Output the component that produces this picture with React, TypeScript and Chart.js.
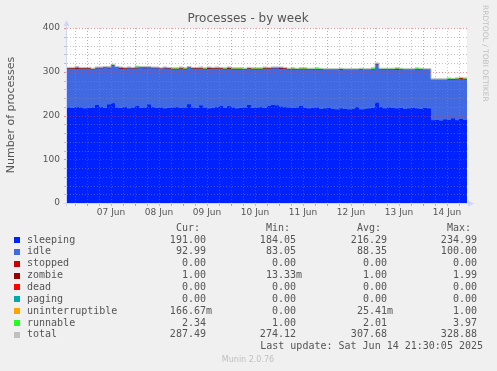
import React, { useEffect, useRef } from "react";
import { Chart, registerables } from "chart.js";

Chart.register(...registerables);

// time axis: hours counted from 06 Jun 00:00
const START_HOUR = 14;
const STEP_HOURS = 2;
const END_HOUR = 214;

const sleeping = [
  218, 217, 219, 218, 216, 217, 218, 224, 219, 217,
  225, 228, 218, 217, 219, 216, 218, 222, 217, 218,
  225, 219, 217, 218, 216, 217, 218, 219, 217, 218,
  226, 218, 217, 223, 218, 216, 217, 219, 222, 217,
  221, 218, 216, 217, 218, 224, 217, 218, 219, 217,
  222, 224, 223, 220, 219, 218, 217, 218, 222, 217,
  216, 217, 218, 215, 216, 217, 215, 214, 216, 215,
  214, 215, 219, 214, 215, 216, 217, 229, 219, 216,
  218, 217, 216, 217, 215, 216, 217, 216, 215, 217,
  216, 189, 190, 188, 191, 190, 193, 189, 192, 190,
  191,
];
const idle = [
  89, 90, 88, 89, 91, 90, 88, 84, 89, 92,
  83, 86, 91, 90, 88, 92, 89, 86, 92, 90,
  84, 89, 91, 89, 92, 90, 88, 87, 90, 88,
  83, 89, 90, 84, 88, 91, 90, 88, 85, 89,
  86, 88, 90, 89, 87, 83, 89, 88, 87, 90,
  85, 84, 85, 87, 88, 88, 89, 87, 84, 89,
  89, 88, 87, 90, 88, 87, 89, 90, 88, 89,
  90, 89, 85, 91, 89, 88, 88, 88, 86, 89,
  87, 88, 89, 88, 89, 88, 87, 89, 90, 87,
  88, 92, 91, 93, 90, 92, 89, 94, 91, 93,
  93,
];
const zombie = [
  1, 1, 2, 1, 1, 1, 1, 1, 1, 1,
  1, 1, 1, 2, 1, 1, 1, 1, 1, 2,
  1, 1, 1, 1, 1, 1, 1, 1, 1, 1,
  1, 1, 1, 1, 1, 2, 1, 1, 1, 1,
  2, 1, 1, 1, 1, 1, 1, 1, 1, 1,
  1, 1, 1, 2, 1, 1, 1, 1, 1, 1,
  1, 1, 1, 1, 1, 1, 1, 1, 2, 1,
  1, 1, 1, 1, 1, 1, 1, 1, 1, 1,
  1, 1, 2, 1, 1, 1, 1, 1, 1, 1,
  1, 1, 1, 1, 1, 1, 1, 1, 2, 1,
  1,
];
const uninterruptible = [
  0, 0, 0, 0, 0, 0, 0, 0, 0, 0,
  0, 0, 0, 0, 0, 0, 0, 0, 0, 0,
  0, 0, 0, 0, 0, 0, 0, 0, 0, 0,
  0, 0, 0, 1, 0, 0, 0, 0, 0, 0,
  0, 0, 0, 0, 0, 0, 0, 0, 0, 0,
  0, 0, 0, 0, 0, 0, 0, 0, 0, 0,
  0, 0, 0, 0, 0, 0, 0, 0, 0, 0,
  0, 0, 0, 0, 0, 0, 0, 0, 0, 0,
  0, 0, 0, 0, 0, 0, 0, 0, 0, 0,
  0, 0, 0, 0, 0, 0, 0, 0, 0, 0,
  0.17,
];
const runnable = [
  2, 2, 3, 2, 2, 2, 1, 2, 2, 2,
  3, 2, 2, 2, 2, 2, 2, 4, 2, 2,
  2, 2, 2, 1, 2, 2, 2, 2, 3, 2,
  2, 2, 2, 2, 2, 2, 2, 3, 2, 2,
  2, 2, 2, 2, 2, 2, 2, 2, 2, 3,
  2, 2, 2, 2, 2, 1, 2, 2, 2, 2,
  2, 2, 3, 2, 2, 2, 2, 2, 2, 2,
  2, 2, 2, 2, 2, 2, 3, 2, 2, 2,
  2, 2, 2, 2, 2, 2, 2, 3, 2, 2,
  2, 2, 2, 2, 2, 3, 2, 2, 2, 2,
  2.34,
];

const dayLabels = ["07 Jun", "08 Jun", "09 Jun", "10 Jun", "11 Jun", "12 Jun", "13 Jun", "14 Jun"];
const dayNoonHours = [36, 60, 84, 108, 132, 156, 180, 204];
const yTickLabels = [0, 100, 200, 300, 400];

const legendNames = ["sleeping", "idle", "stopped", "zombie", "dead", "paging", "uninterruptible", "runnable", "total"];
const legendColors = ["#0022ff", "#4169e1", "#cc0000", "#990000", "#ff0000", "#00aaaa", "#ffa500", "#22ff22", "#c0c0c0"];
const curValues = ["191.00", "92.99", "0.00", "1.00", "0.00", "0.00", "166.67m", "2.34", "287.49"];
const minValues = ["184.05", "83.05", "0.00", "13.33m", "0.00", "0.00", "0.00", "1.00", "274.12"];
const avgValues = ["216.29", "88.35", "0.00", "1.00", "0.00", "0.00", "25.41m", "2.01", "307.68"];
const maxValues = ["234.99", "100.00", "0.00", "1.99", "0.00", "0.00", "1.00", "3.97", "328.88"];

const W = 497;
const H = 371;
const SANS = "'DejaVu Sans', sans-serif";
const MONO = "'DejaVu Sans Mono', monospace";

export default function App() {
  const ref = useRef<HTMLCanvasElement | null>(null);

  useEffect(() => {
    document.body.style.margin = "0";
    document.body.style.background = "#f0f0f0";
    const canvas = ref.current;
    if (!canvas) return;

    const hours = sleeping.map((_, i) => START_HOUR + i * STEP_HOURS);
    const pts = (arr: number[]) => arr.map((v, i) => ({ x: hours[i], y: v }));
    const total = sleeping.map((v, i) => v + idle[i] + zombie[i] + uninterruptible[i] + runnable[i]);

    // each stacked layer is filled down to the origin; the upper layers are
    // drawn first (higher dataset index), lower ones painted over them.
    const area = (label: string, data: number[], color: string) => ({
      label,
      data: pts(data),
      backgroundColor: color,
      borderColor: "rgba(0,0,0,0)",
      borderWidth: 0,
      pointRadius: 0,
      fill: "origin",
      stepped: "before" as const,
      stack: "s",
    });

    const bgPlugin = {
      id: "bg",
      beforeDraw(chart: any) {
        const c = chart.ctx;
        const a = chart.chartArea;
        c.save();
        c.fillStyle = "#f0f0f0";
        c.fillRect(0, 0, W, H);
        c.fillStyle = "#ffffff";
        c.fillRect(a.left, a.top, a.right - a.left, a.bottom - a.top);
        c.restore();
      },
    };

    const gridPlugin = {
      id: "rrdgrid",
      afterDatasetsDraw(chart: any) {
        const c = chart.ctx;
        const a = chart.chartArea;
        const xs = chart.scales.x;
        const ys = chart.scales.y;
        c.save();
        c.lineWidth = 1;
        const minor = "rgba(140,140,140,0.5)";
        const major = "rgba(230,60,60,0.55)";
        for (let v = 20; v <= 400; v += 20) {
          const y = Math.round(ys.getPixelForValue(v)) + 0.5;
          c.setLineDash([1, 2]);
          c.strokeStyle = v % 100 === 0 ? major : minor;
          c.beginPath();
          c.moveTo(a.left, y);
          c.lineTo(a.right, y);
          c.stroke();
          c.setLineDash([]);
          c.beginPath();
          c.moveTo(a.left - 3, y);
          c.lineTo(a.left, y);
          c.stroke();
        }
        for (let h = 18; h < END_HOUR; h += 6) {
          const x = Math.round(xs.getPixelForValue(h)) + 0.5;
          c.setLineDash([1, 2]);
          c.strokeStyle = h % 24 === 0 ? major : minor;
          c.beginPath();
          c.moveTo(x, a.top);
          c.lineTo(x, a.bottom);
          c.stroke();
          c.setLineDash([]);
          c.beginPath();
          c.moveTo(x, a.bottom);
          c.lineTo(x, a.bottom + 3);
          c.stroke();
        }
        const axisCol = "#cfd6f8";
        c.strokeStyle = axisCol;
        c.fillStyle = axisCol;
        const ax = Math.round(a.left) - 0.5;
        const ay = Math.round(a.bottom) + 0.5;
        c.beginPath();
        c.moveTo(ax, ay + 3);
        c.lineTo(ax, a.top - 6);
        c.stroke();
        c.beginPath();
        c.moveTo(ax - 3, a.top - 2);
        c.lineTo(ax + 3, a.top - 2);
        c.lineTo(ax, a.top - 8);
        c.closePath();
        c.fill();
        c.beginPath();
        c.moveTo(ax - 3, ay);
        c.lineTo(a.right + 3, ay);
        c.stroke();
        c.beginPath();
        c.moveTo(a.right + 1, ay - 3);
        c.lineTo(a.right + 1, ay + 3);
        c.lineTo(a.right + 7, ay);
        c.closePath();
        c.fill();
        c.restore();
      },
    };

    const textPlugin = {
      id: "rrdtext",
      afterDraw(chart: any) {
        const c = chart.ctx;
        const a = chart.chartArea;
        const xs = chart.scales.x;
        const ys = chart.scales.y;
        c.save();
        c.fillStyle = "#555555";
        c.font = `12px ${SANS}`;
        c.textAlign = "center";
        c.textBaseline = "middle";
        c.fillText("Processes - by week", 248, 19);
        c.font = `9px ${SANS}`;
        c.textAlign = "right";
        yTickLabels.forEach((v) => {
          c.fillText(String(v), a.left - 7, ys.getPixelForValue(v));
        });
        c.textAlign = "center";
        dayLabels.forEach((lab, i) => {
          c.fillText(lab, xs.getPixelForValue(dayNoonHours[i]), 213);
        });
        c.save();
        c.font = `11px ${SANS}`;
        c.translate(11, 115);
        c.rotate(-Math.PI / 2);
        c.fillText("Number of processes", 0, 0);
        c.restore();
        c.save();
        c.fillStyle = "#c0c0c0";
        c.font = `7.5px ${SANS}`;
        c.textAlign = "left";
        c.translate(485, 5);
        c.rotate(Math.PI / 2);
        c.fillText("RRDTOOL / TOBI OETIKER", 0, 0);
        c.restore();
        c.font = `10px ${MONO}`;
        const rowY0 = 240;
        const dy = 11.85;
        const cols = [206, 296, 387, 477];
        const heads = ["Cur:", "Min:", "Avg:", "Max:"];
        c.textAlign = "right";
        heads.forEach((hd, j) => c.fillText(hd, cols[j] - 6, rowY0 - dy));
        const tables = [curValues, minValues, avgValues, maxValues];
        legendNames.forEach((name, i) => {
          const y = rowY0 + i * dy;
          c.fillStyle = legendColors[i];
          c.fillRect(14, Math.round(y) - 3, 6, 6);
          c.fillStyle = "#555555";
          c.textAlign = "left";
          c.fillText(name, 27, y);
          c.textAlign = "right";
          tables.forEach((tab, j) => {
            const s = tab[i];
            const padded = s.endsWith("m") ? s : s + " ";
            c.fillText(padded, cols[j] + 6, y);
          });
        });
        c.textAlign = "right";
        c.fillText("Last update: Sat Jun 14 21:30:05 2025", 483, rowY0 + 9 * dy);
        c.fillStyle = "#c0c0c0";
        c.font = `8px ${SANS}`;
        c.textAlign = "center";
        c.fillText("Munin 2.0.76", 248, 360);
        c.restore();
      },
    };

    const chart = new Chart(canvas, {
      type: "line",
      data: {
        datasets: [
          area("sleeping", sleeping, "#0022ff"),
          area("idle", idle, "#4169e1"),
          area("zombie", zombie, "#990000"),
          area("uninterruptible", uninterruptible, "#ffa500"),
          area("runnable", runnable, "#22ff22"),
          {
            label: "total",
            data: pts(total),
            borderColor: "#c0c0c0",
            backgroundColor: "#c0c0c0",
            borderWidth: 1,
            pointRadius: 0,
            fill: false,
            stepped: "before" as const,
            stack: "total",
            order: -1,
          },
        ] as any,
      },
      options: {
        animation: false,
        responsive: false,
        devicePixelRatio: 1,
        events: [],
        layout: { padding: { left: 67, top: 28, right: 30, bottom: 168 } },
        plugins: {
          legend: { display: false },
          tooltip: { enabled: false },
          title: { display: false },
          filler: { drawTime: "beforeDatasetDraw" },
        } as any,
        scales: {
          x: { type: "linear", min: START_HOUR, max: END_HOUR, display: false },
          y: { type: "linear", min: 0, max: 400, display: false, stacked: true },
        },
      },
      plugins: [bgPlugin, gridPlugin, textPlugin],
    });
    return () => chart.destroy();
  }, []);

  return <canvas ref={ref} width={W} height={H} style={{ display: "block", width: W, height: H }} />;
}
